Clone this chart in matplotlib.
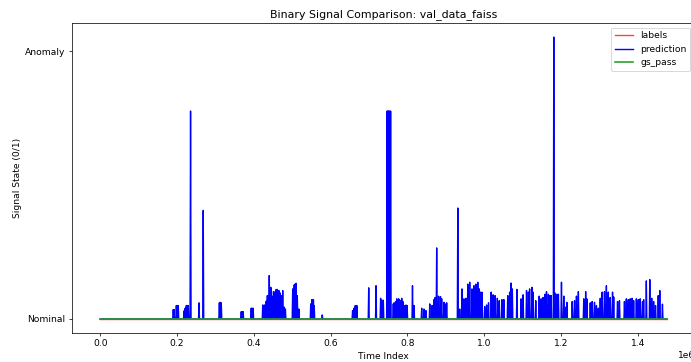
import numpy as np
import matplotlib.pyplot as plt

# Fim do sinal (indice de tempo)
t_end = 1475000

# Labels e gs_pass ficam sempre em Nominal (0)
labels_val = [0, 0]
gs_pass_val = [0, 0]

# Picos da predicao: tempo (em milhares) e altura
peak_t = [
    190, 192, 198, 200, 203,
    218, 221, 224, 226, 229,
    235,
    257,
    268,
    310, 312, 315,
    367, 369, 372,
    393, 395, 398,
    423, 427, 430, 432, 435, 439, 440, 444, 447, 451, 454, 458, 461, 465, 468, 471, 475, 479, 482,
    501, 505, 507, 510, 513, 517,
    548, 551, 555, 557,
    578,
    657, 661, 664, 668,
    699,
    718,
    730, 733, 737,
    747, 749, 751, 753, 756,
    763, 765, 767, 769, 772, 774, 777, 780, 782, 785, 788, 791, 794, 796, 799,
    813, 817,
    837, 843, 848,
    858, 864,
    869, 872, 876, 881, 886, 889, 895, 898, 902,
    931,
    936, 942, 947, 952, 957, 962, 968, 973, 978, 983, 987, 990, 994,
    1001, 1006, 1011,
    1018, 1023, 1028, 1034, 1039,
    1046, 1051,
    1061, 1066, 1070, 1073,
    1085,
    1096, 1101,
    1110, 1115, 1118, 1124, 1127, 1134,
    1143, 1148, 1153, 1158, 1162, 1167, 1170, 1174,
    1181,
    1184, 1189, 1193,
    1201,
    1207, 1212, 1215,
    1229, 1235, 1240, 1245,
    1259, 1264, 1267,
    1276, 1281, 1287, 1292, 1297,
    1302, 1307, 1313, 1318, 1323, 1328, 1334, 1337,
    1347, 1352,
    1365, 1370, 1375, 1380, 1385, 1389,
    1396, 1401, 1406, 1412, 1415,
    1422, 1431,
    1436, 1441, 1446,
    1453, 1457, 1464,
]
peak_h = [
    0.035, 0.035, 0.05, 0.05, 0.05,
    0.03, 0.04, 0.05, 0.05, 0.05,
    0.776,
    0.06,
    0.405,
    0.06, 0.062, 0.06,
    0.027, 0.027, 0.027,
    0.04, 0.04, 0.04,
    0.052, 0.052, 0.052, 0.066, 0.087, 0.087, 0.162, 0.118, 0.085, 0.102, 0.1, 0.11, 0.11, 0.106, 0.097, 0.087, 0.106, 0.044, 0.037,
    0.112, 0.127, 0.13, 0.133, 0.087, 0.037,
    0.056, 0.072, 0.072, 0.05,
    0.015,
    0.031, 0.04, 0.05, 0.05,
    0.116,
    0.124,
    0.077, 0.07, 0.07,
    0.776, 0.776, 0.776, 0.776, 0.776,
    0.056, 0.06, 0.052, 0.065, 0.075, 0.07, 0.075, 0.07, 0.062, 0.077, 0.065, 0.05, 0.05, 0.052, 0.05,
    0.124, 0.05,
    0.04, 0.037, 0.031,
    0.056, 0.05,
    0.072, 0.08, 0.265, 0.085, 0.083, 0.075, 0.062, 0.056, 0.06,
    0.414,
    0.037, 0.112, 0.075, 0.077, 0.13, 0.137, 0.112, 0.124, 0.13, 0.137, 0.112, 0.1, 0.1,
    0.046, 0.052, 0.06,
    0.1, 0.09, 0.087, 0.077, 0.068,
    0.072, 0.072,
    0.087, 0.1, 0.134, 0.112,
    0.11,
    0.075, 0.09,
    0.106, 0.1, 0.112, 0.118, 0.1, 0.068,
    0.085, 0.075, 0.08, 0.092, 0.102, 0.092, 0.087, 0.087,
    1.052,
    0.097, 0.092, 0.092,
    0.137,
    0.085, 0.044, 0.062,
    0.065, 0.068, 0.085, 0.102,
    0.075, 0.102, 0.075,
    0.06, 0.065, 0.062, 0.05, 0.04,
    0.077, 0.1, 0.102, 0.124, 0.1, 0.08, 0.1, 0.082,
    0.065, 0.068,
    0.065, 0.075, 0.072, 0.075, 0.077, 0.068,
    0.075, 0.072, 0.075, 0.065, 0.072,
    0.142, 0.147,
    0.077, 0.065, 0.05,
    0.087, 0.106, 0.055,
]

# Montar a serie da predicao: cada pico sobe e volta ao nivel 0
meia_largura = 1.3  # em milhares
pred_t = [0]
pred_v = [0]
for t, h in zip(peak_t, peak_h):
    pred_t += [(t - meia_largura) * 1000, t * 1000, (t + meia_largura) * 1000]
    pred_v += [0, h, 0]
pred_t.append(t_end)
pred_v.append(0)

dpi = 66
fig = plt.figure(figsize=(691 / dpi, 362 / dpi), dpi=dpi)
ax = fig.add_axes([72 / 691, 29 / 362, 623 / 691, 310 / 362])

ax.plot([0, t_end], labels_val, color='red', alpha=0.75, label='labels')
ax.plot(pred_t, pred_v, color='blue', label='prediction')
ax.plot([0, t_end], gs_pass_val, color='#2ca02c', lw=1.8, label='gs_pass')

ax.set_yticks([0, 1])
ax.set_yticklabels(['Nominal', 'Anomaly'])
ax.set_xlabel('Time Index')
ax.set_ylabel('Signal State (0/1)')
ax.set_title('Binary Signal Comparison: val_data_faiss')
ax.legend(loc='upper right')

fig.savefig('out.png', dpi=dpi)
